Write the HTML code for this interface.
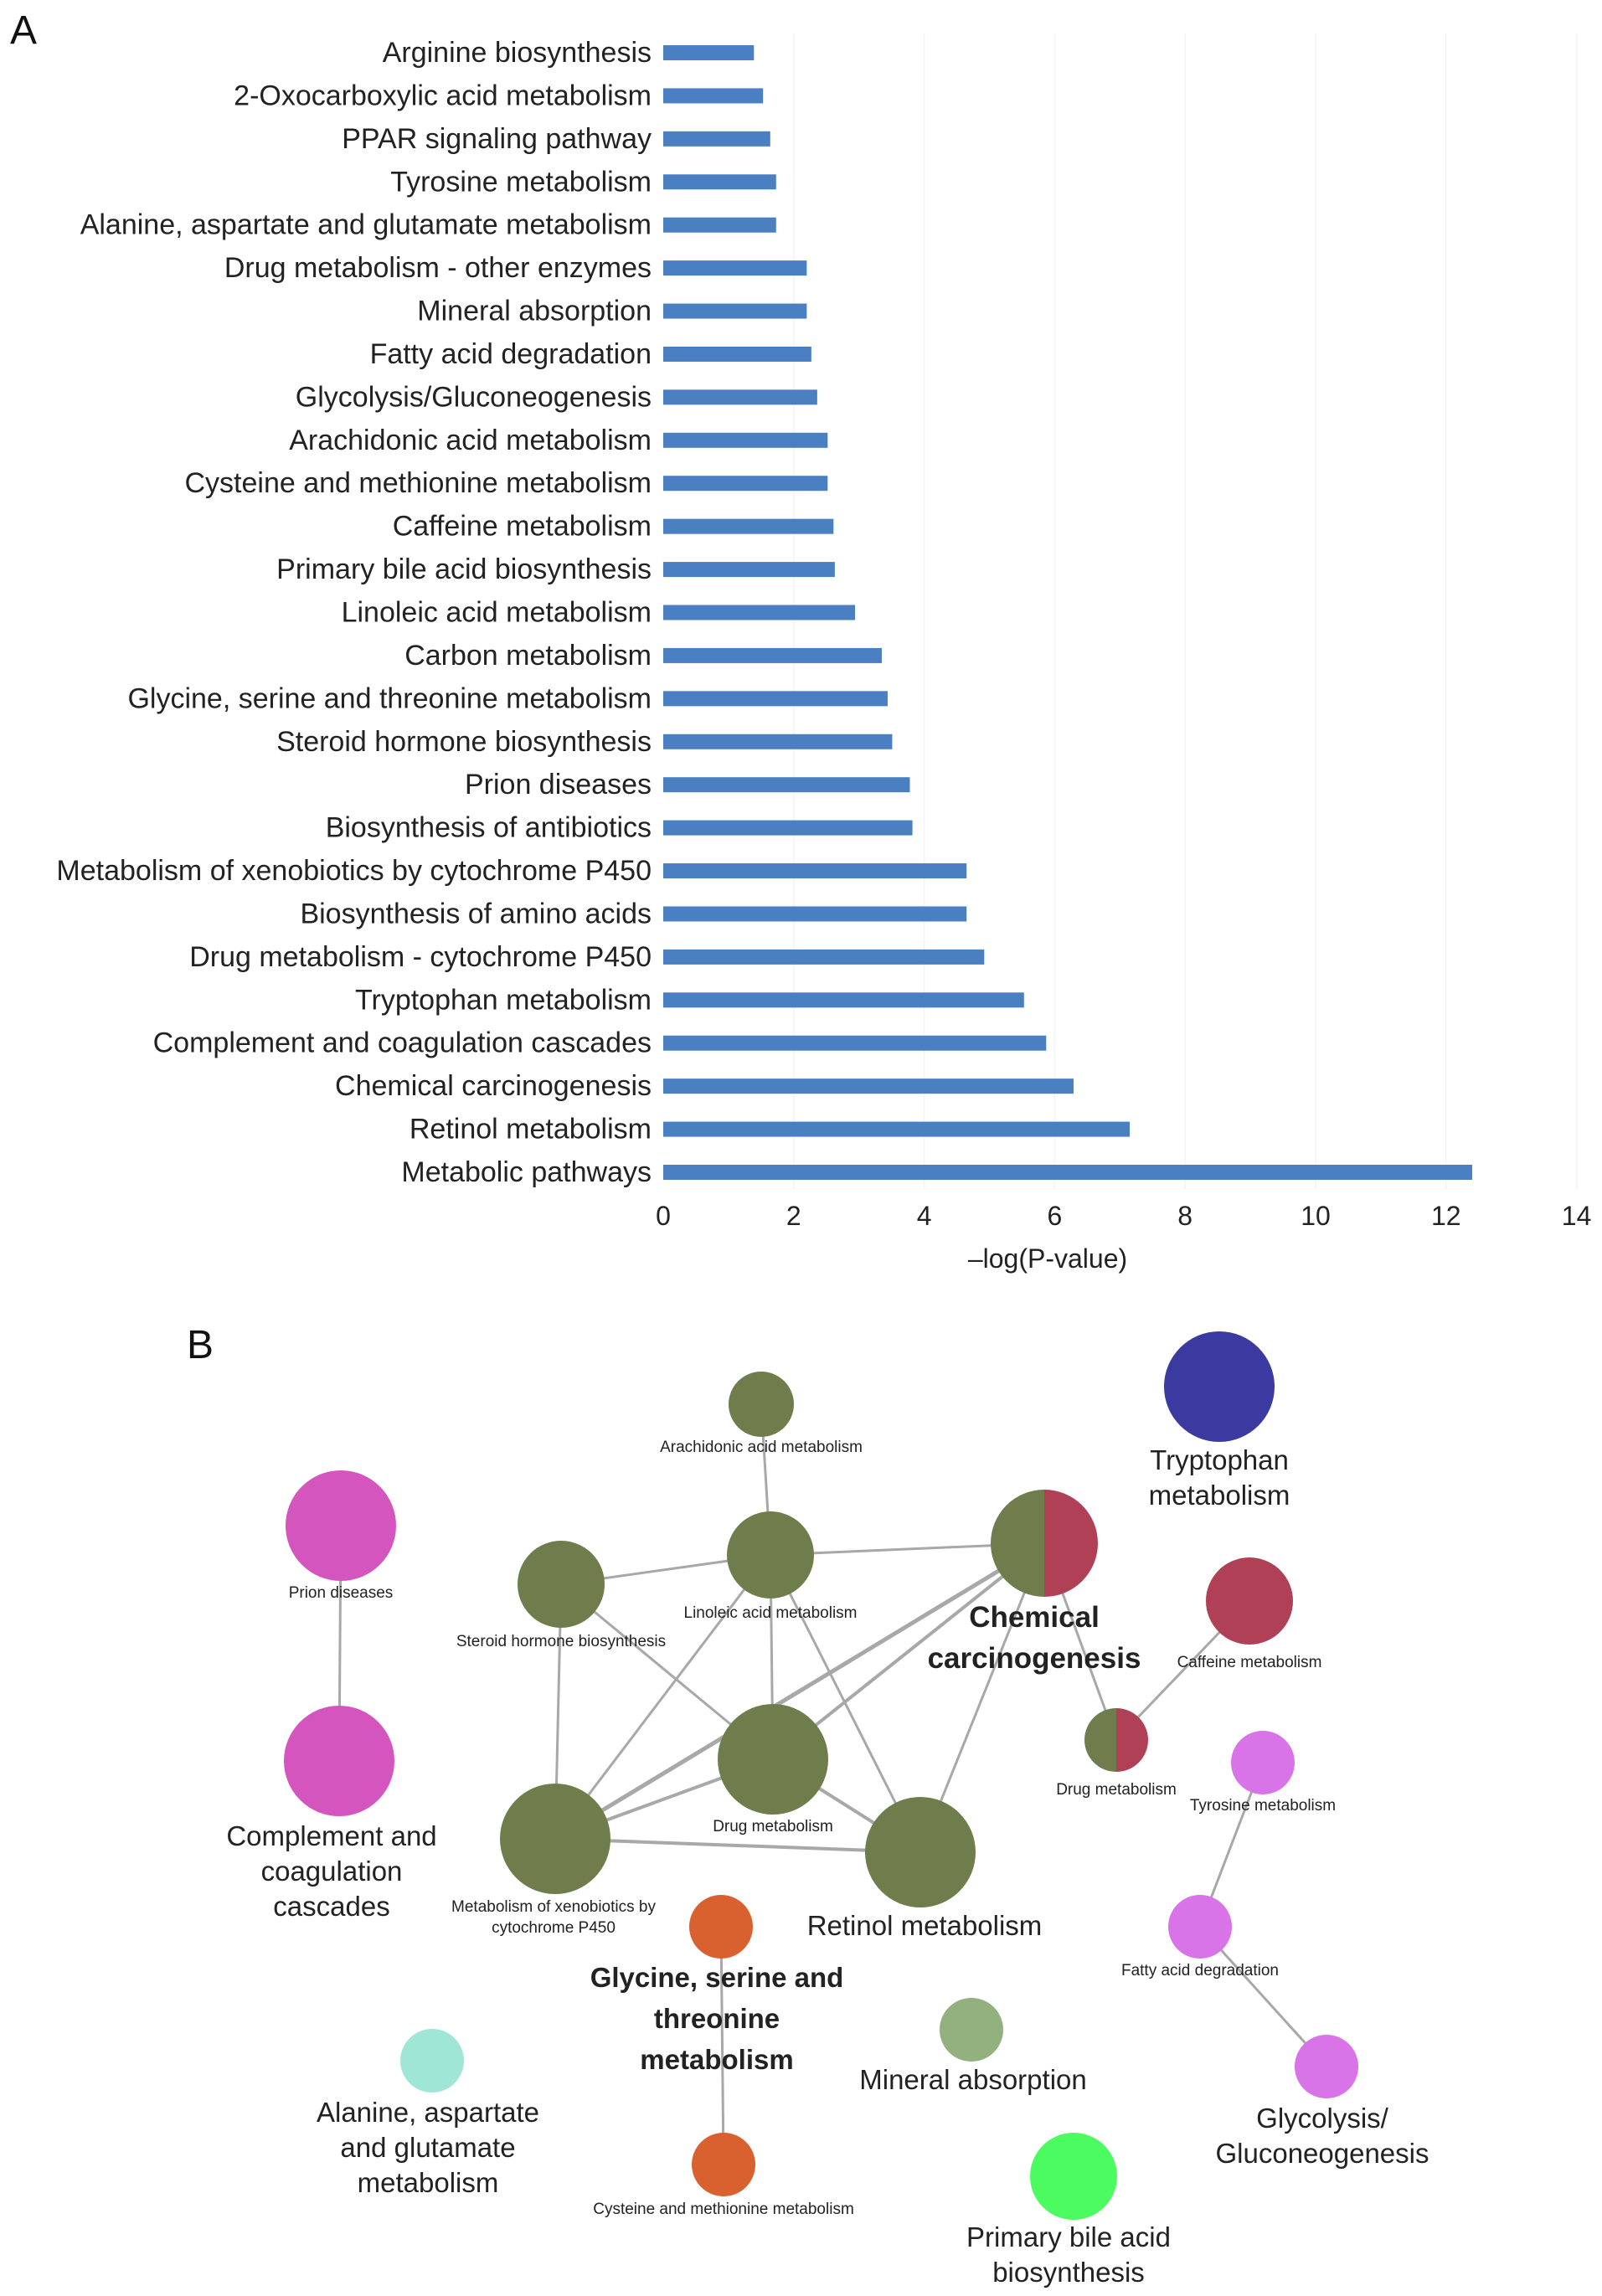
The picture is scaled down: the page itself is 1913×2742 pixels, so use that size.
<!DOCTYPE html>
<html><head><meta charset="utf-8"><style>
html,body{margin:0;padding:0;background:#fff;}
svg{display:block;font-family:"Liberation Sans",Arial,sans-serif;}
</style></head><body>
<svg id="fig" width="1913" height="2742" viewBox="0 0 1913 2742">
<text x="12" y="52" font-size="48" fill="#111">A</text>
<g id="chartA"></g>
<text x="223" y="1622" font-size="48" fill="#111">B</text>
<g id="net"></g>
</svg>
<script>
const categories = ["Arginine biosynthesis","2-Oxocarboxylic acid metabolism","PPAR signaling pathway","Tyrosine metabolism","Alanine, aspartate and glutamate metabolism","Drug metabolism - other enzymes","Mineral absorption","Fatty acid degradation","Glycolysis/Gluconeogenesis","Arachidonic acid metabolism","Cysteine and methionine metabolism","Caffeine metabolism","Primary bile acid biosynthesis","Linoleic acid metabolism","Carbon metabolism","Glycine, serine and threonine metabolism","Steroid hormone biosynthesis","Prion diseases","Biosynthesis of antibiotics","Metabolism of xenobiotics by cytochrome P450","Biosynthesis of amino acids","Drug metabolism - cytochrome P450","Tryptophan metabolism","Complement and coagulation cascades","Chemical carcinogenesis","Retinol metabolism","Metabolic pathways"];
const values = [1.39,1.53,1.64,1.73,1.73,2.2,2.2,2.27,2.36,2.52,2.52,2.61,2.63,2.94,3.35,3.44,3.51,3.78,3.82,4.65,4.65,4.92,5.53,5.87,6.29,7.15,12.4];
const ticks = [0,2,4,6,8,10,12,14];
const NS="http://www.w3.org/2000/svg";
function mk(tag,attrs,parent){const e=document.createElementNS(NS,tag);for(const k in attrs)e.setAttribute(k,attrs[k]);parent.appendChild(e);return e;}
const A=document.getElementById('chartA');
const x0=792, xUnit=77.9, yTop=63, yStep=(1400-63)/(categories.length-1);
const xS=v=>x0+v*xUnit, yS=i=>yTop+i*yStep;
ticks.forEach(t=>{
  if(t>0){const g=mk('line',{x1:xS(t),x2:xS(t),y1:40,y2:1420,stroke:'#f3f3f3','stroke-width':1.5},A);
  
  }
  const tl=mk('text',{x:xS(t),y:1463,'font-size':32,'text-anchor':'middle',fill:'#222'},A);tl.textContent=t;
  
  
});
categories.forEach((c,i)=>{
  const r=mk('rect',{x:x0,y:yS(i)-9,width:xS(values[i])-x0,height:18,fill:'#4a7fc1'},A);
  
  
  const t=mk('text',{x:778,y:yS(i)+11,'font-size':34,'text-anchor':'end',fill:'#222'},A);t.textContent=c;
  
  
});
const at=mk('text',{x:1251,y:1514,'font-size':32,'text-anchor':'middle',fill:'#222'},A);at.textContent='\u2013log(P-value)';



const G='#6e7d4b',R='#b04055',P='#d455bd',V='#d874e8',O='#d9612f';
const nodes={
 arach:{x:909,y:1677,r:39,c:G,l:["Arachidonic acid metabolism"],ly:1737,fs:19},
 tryp:{x:1456,y:1656,r:66,c:'#3a3aa0',l:["Tryptophan","metabolism"],ly:1760,fs:33,lh:42},
 prion:{x:407,y:1822,r:66,c:P,l:["Prion diseases"],ly:1911,fs:19},
 lino:{x:920,y:1857,r:52,c:G,l:["Linoleic acid metabolism"],ly:1935,fs:19},
 ster:{x:670,y:1892,r:52,c:G,l:["Steroid hormone biosynthesis"],ly:1969,fs:19},
 chem:{x:1247,y:1843,r:64,c:G,c2:R,l:["Chemical","carcinogenesis"],ly:1948,fs:35,lh:49,bold:1,lx:1235},
 caff:{x:1492,y:1912,r:52,c:R,l:["Caffeine metabolism"],ly:1994,fs:19},
 comp:{x:405,y:2103,r:66,c:P,l:["Complement and","coagulation","cascades"],ly:2209,fs:33,lh:42,lx:396},
 drug:{x:923,y:2101,r:66,c:G,l:["Drug metabolism"],ly:2190,fs:19},
 drugs:{x:1333,y:2078,r:38,c:G,c2:R,l:["Drug metabolism"],ly:2146,fs:19},
 tyro:{x:1508,y:2105,r:38,c:V,l:["Tyrosine metabolism"],ly:2165,fs:19},
 xeno:{x:663,y:2196,r:66,c:G,l:["Metabolism of xenobiotics by","cytochrome P450"],ly:2286,fs:19,lh:25,lx:661},
 ret:{x:1099,y:2212,r:66,c:G,l:["Retinol metabolism"],ly:2316,fs:33,lx:1104},
 gly:{x:861,y:2301,r:38,c:O,l:["Glycine, serine and","threonine","metabolism"],ly:2378,fs:33,lh:49,bold:1,lx:856},
 fatty:{x:1433,y:2301,r:38,c:V,l:["Fatty acid degradation"],ly:2362,fs:19},
 min:{x:1160,y:2424,r:38,c:'#93b07f',l:["Mineral absorption"],ly:2500,fs:33,lx:1162},
 ala:{x:516,y:2461,r:38,c:'#a0e6d6',l:["Alanine, aspartate","and glutamate","metabolism"],ly:2539,fs:33,lh:42,lx:511},
 glyco:{x:1584,y:2468,r:38,c:V,l:["Glycolysis/","Gluconeogenesis"],ly:2546,fs:33,lh:42,lx:1579},
 cyst:{x:864,y:2585,r:38,c:O,l:["Cysteine and methionine metabolism"],ly:2647,fs:19},
 bile:{x:1282,y:2599,r:52,c:'#4cfb5f',l:["Primary bile acid","biosynthesis"],ly:2688,fs:33,lh:42,lx:1276}
};
const edges=[["arach","lino",3],["prion","comp",3],["ster","lino",3],["lino","chem",3],["ster","drug",3],["ster","xeno",3],["lino","drug",3],["lino","xeno",3],["lino","ret",3],["chem","xeno",5],["chem","drug",4],["chem","ret",3],["chem","drugs",3],["drug","xeno",4],["drug","ret",4],["xeno","ret",4],["caff","drugs",3],["tyro","fatty",3],["fatty","glyco",3],["gly","cyst",3]];
const N=document.getElementById('net');
edges.forEach(e=>{const a=nodes[e[0]],b=nodes[e[1]];
  const l=mk('line',{x1:a.x,y1:a.y,x2:b.x,y2:b.y,stroke:'#a8a8a8','stroke-width':e[2]},N);
  
  
});
for(const k in nodes){const n=nodes[k];
  let c;
  if(n.c2){
    c=mk('g',{},N);
    mk('path',{d:`M${n.x},${n.y-n.r} A${n.r},${n.r} 0 0 0 ${n.x},${n.y+n.r} Z`,fill:n.c},c);
    mk('path',{d:`M${n.x},${n.y-n.r} A${n.r},${n.r} 0 0 1 ${n.x},${n.y+n.r} Z`,fill:n.c2},c);
  } else c=mk('circle',{cx:n.x,cy:n.y,r:n.r,fill:n.c},N);
  
  
}
for(const k in nodes){const n=nodes[k];
  n.l.forEach((s,i)=>{
    const t=mk('text',{x:n.lx||n.x,y:n.ly+i*(n.lh||24)-n.fs*0.15,'font-size':n.fs,'text-anchor':'middle',fill:'#222','font-weight':n.bold?'bold':'normal'},N);
    t.textContent=s;
    
    
  });
}
</script>
</body></html>
